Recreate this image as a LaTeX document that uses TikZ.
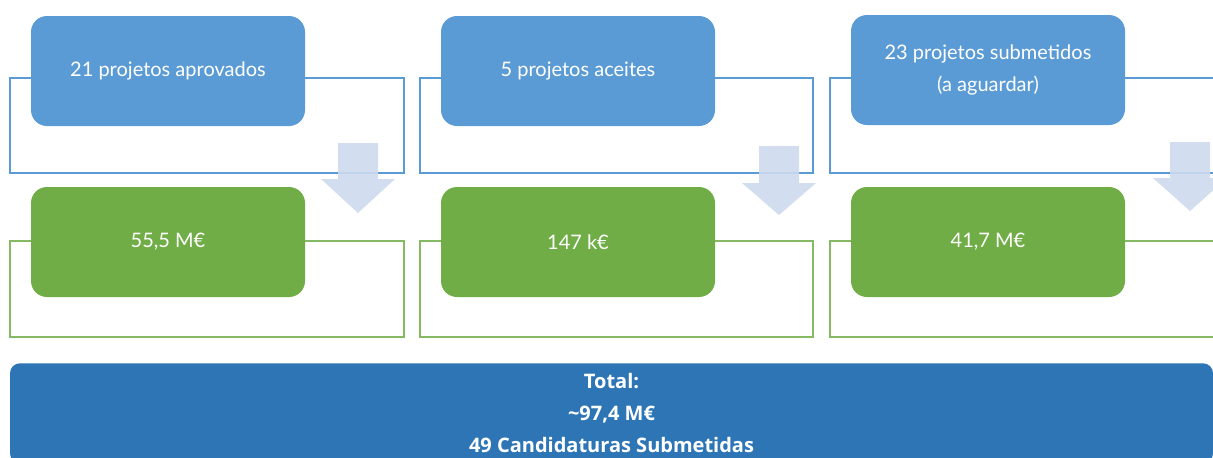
\documentclass[tikz,border=0pt]{standalone}
\usepackage{fontspec}
\setmainfont{Lato}
\newfontfamily\totalfont{Open Sans}
\usetikzlibrary{positioning}
\definecolor{boxblue}{RGB}{91,155,213}
\definecolor{boxgreen}{RGB}{112,173,71}
\definecolor{totalblue}{RGB}{46,117,182}
\definecolor{arrowblue}{RGB}{205,218,237}
\begin{document}
\begin{tikzpicture}[x=0.75pt,y=-0.75pt,
	frameblue/.style={draw=boxblue, line width=0.9pt},
	framegreen/.style={draw=boxgreen!85!white, line width=0.9pt},
	stagebox/.style={rounded corners=12pt, minimum width=205.5pt, minimum height=82.5pt, text=white, align=center, font=\fontsize{15}{24}\selectfont, inner sep=0pt},
	downarr/.style={fill=arrowblue, opacity=0.9}]
				\clip (0,0) rectangle (1213,457);
				% frames behind the boxes
				\draw[frameblue] (10,78) rectangle (404,173);
				\draw[frameblue] (420,78) rectangle (813,173);
				\draw[frameblue] (830,78) rectangle (1230,173);
				\draw[framegreen] (10,241) rectangle (404,337);
				\draw[framegreen] (420,241) rectangle (813,337);
				\draw[framegreen] (830,241) rectangle (1230,337);
				% project counts
				\node[stagebox, fill=boxblue] (aprovados) at (168,71) {21 projetos aprovados};
				\node[stagebox, fill=boxblue] (aceites) at (578,71) {5 projetos aceites};
				\node[stagebox, fill=boxblue] (submetidos) at (988,70) {23 projetos submetidos\\(a aguardar)};
				% amounts
				\node[stagebox, fill=boxgreen] (valor1) at (168,242) {55,5 M€};
				\node[stagebox, fill=boxgreen] (valor2) at (578,242) {147 k€};
				\node[stagebox, fill=boxgreen] (valor3) at (988,242) {41,7 M€};
				% arrows
				\fill[downarr] (338,143) -- ++(40,0) -- ++(0,36) -- ++(17,0) -- ++(-37,34) -- ++(-37,-34) -- ++(17,0) -- cycle;
				\fill[downarr] (759,146) -- ++(40,0) -- ++(0,37) -- ++(17,0) -- ++(-37,32) -- ++(-37,-32) -- ++(17,0) -- cycle;
				\fill[downarr] (1170,142) -- ++(40,0) -- ++(0,36) -- ++(17,0) -- ++(-37,33) -- ++(-37,-33) -- ++(17,0) -- cycle;
				% total
				\node[anchor=north, fill=totalblue, rounded corners=7.5pt, minimum width=902.25pt, minimum height=75pt, text=white, align=center, font=\totalfont\fontsize{15}{24}\selectfont\bfseries, inner sep=0pt] (total) at (611.5,363) {Total:\\\textasciitilde97,4 M€\\49 Candidaturas Submetidas};
\end{tikzpicture}
\end{document}
